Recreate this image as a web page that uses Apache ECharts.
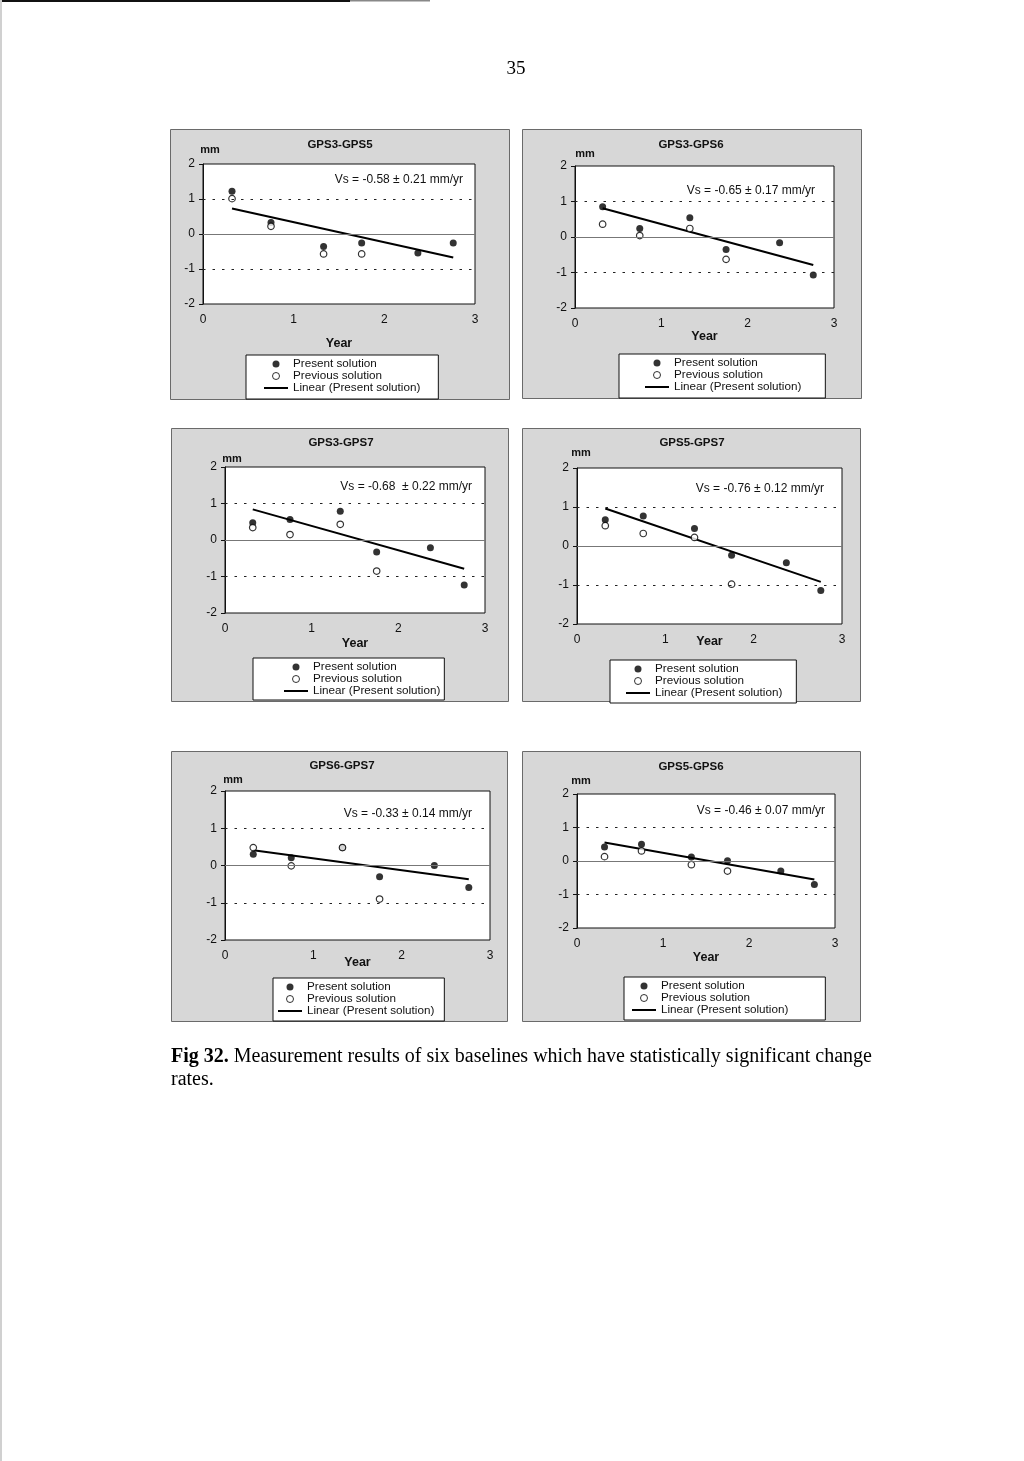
<!DOCTYPE html>
<html><head><meta charset="utf-8">
<script src="https://cdn.jsdelivr.net/npm/echarts@6/dist/echarts.min.js"></script>
<style>html,body{margin:0;padding:0;background:#fff}#c{width:1024px;height:1461px}</style>
</head><body><div id="c"></div>
<script>
// ---------- data ----------
const yearsPresent = [0.32, 0.75, 1.33, 1.75, 2.37, 2.76];
const yearsPrevious = [0.32, 0.75, 1.33, 1.75];
const yearsTrend = [0.32, 2.76];
const xTicks = [0, 1, 2, 3];
const yTicks = [-2, -1, 0, 1, 2];
const baselines = ['GPS3-GPS5', 'GPS3-GPS6', 'GPS3-GPS7', 'GPS5-GPS7', 'GPS6-GPS7', 'GPS5-GPS6'];
const rateTexts = [
  'Vs = -0.58 ± 0.21 mm/yr',
  'Vs = -0.65 ± 0.17 mm/yr',
  'Vs = -0.68  ± 0.22 mm/yr',
  'Vs = -0.76 ± 0.12 mm/yr',
  'Vs = -0.33 ± 0.14 mm/yr',
  'Vs = -0.46 ± 0.07 mm/yr'
];
const presentGPS3GPS5 = [1.22, 0.33, -0.36, -0.26, -0.54, -0.26];
const previousGPS3GPS5 = [1.01, 0.22, -0.57, -0.57];
const trendGPS3GPS5 = [0.73, -0.67];
const presentGPS3GPS6 = [0.85, 0.24, 0.54, -0.35, -0.16, -1.07];
const previousGPS3GPS6 = [0.36, 0.04, 0.24, -0.63];
const trendGPS3GPS6 = [0.81, -0.79];
const presentGPS3GPS7 = [0.47, 0.56, 0.79, -0.33, -0.21, -1.23];
const previousGPS3GPS7 = [0.34, 0.15, 0.43, -0.85];
const trendGPS3GPS7 = [0.84, -0.79];
const presentGPS5GPS7 = [0.67, 0.77, 0.45, -0.24, -0.43, -1.14];
const previousGPS5GPS7 = [0.52, 0.32, 0.22, -0.98];
const trendGPS5GPS7 = [0.96, -0.92];
const presentGPS6GPS7 = [0.30, 0.21, 0.48, -0.30, 0.00, -0.59];
const previousGPS6GPS7 = [0.48, -0.01, 0.48, -0.90];
const trendGPS6GPS7 = [0.41, -0.37];
const presentGPS5GPS6 = [0.42, 0.50, 0.12, 0.01, -0.30, -0.70];
const previousGPS5GPS6 = [0.13, 0.30, -0.11, -0.30];
const trendGPS5GPS6 = [0.55, -0.55];
const seriesNames = ['Present solution', 'Previous solution', 'Linear (Present solution)'];
const pageNumber = '35';
const captionBold = 'Fig 32.';
const captionLine1 = ' Measurement results of six baselines which have statistically significant change';
const captionLine2 = 'rates.';

const presentAll = [presentGPS3GPS5, presentGPS3GPS6, presentGPS3GPS7, presentGPS5GPS7, presentGPS6GPS7, presentGPS5GPS6];
const previousAll = [previousGPS3GPS5, previousGPS3GPS6, previousGPS3GPS7, previousGPS5GPS7, previousGPS6GPS7, previousGPS5GPS6];
const trendAll = [trendGPS3GPS5, trendGPS3GPS6, trendGPS3GPS7, trendGPS5GPS7, trendGPS6GPS7, trendGPS5GPS6];

// ---------- layout (positions only) ----------
const L = [
  {box:[170,129,339,270], grid:[203,164,272,140], leg:[246,355,[3,18,5,18]], mm:[7,8.5], yearGap:33, vs:[463,180], title:[340,145]},
  {box:[522,129,339,269], grid:[575,166,259,142], leg:[619,354,[3,24,5,26]], mm:[10,7], yearGap:22, vs:[815,191], title:[691,145]},
  {box:[171,428,337,273], grid:[225,467,260,146], leg:[253,658,[3,4,3,31]], mm:[7,3], yearGap:24, vs:[472,487], title:[341,443]},
  {box:[522,428,338,273], grid:[577,468,265,156], leg:[610,660,[3,14,4,16]], mm:[4,10], yearGap:11, vs:[824,489], title:[692,443]},
  {box:[171,751,336,270], grid:[225,791,265,149], leg:[273,978,[3,10,4,5]], mm:[8,6], yearGap:16, vs:[472,814], title:[342,766]},
  {box:[522,751,338,270], grid:[577,794,258,134], leg:[624,977,[3,37,4,8]], mm:[4,7.5], yearGap:23, vs:[825,811], title:[691,767]}
];

const SANS = '"Liberation Sans", Arial, sans-serif';
const SERIF = '"Liberation Serif", "Times New Roman", serif';
const LINE_ICON = 'path://M0 -2.5 M24 4.5 M0 0 L24 0 L24 2 L0 2 Z';

const grids = [], xAxes = [], yAxes = [], series = [], legends = [], graphics = [];

// page decorations
graphics.push({type:'rect', shape:{x:0, y:0, width:350, height:2}, style:{fill:'#111'}, z:-50});
graphics.push({type:'rect', shape:{x:350, y:0, width:80, height:1.5}, style:{fill:'#888'}, z:-50});
graphics.push({type:'rect', shape:{x:0, y:0, width:2, height:1461}, style:{fill:'#d0d0d0'}, z:-50});
graphics.push({type:'text', x:516, y:69, style:{text:pageNumber, font:'19px ' + SERIF, fill:'#000', align:'center', verticalAlign:'middle'}, z:100});
graphics.push({type:'text', x:171, y:1057, style:{
  text:'{b|' + captionBold + '}' + captionLine1,
  font:'20px ' + SERIF, fill:'#000', verticalAlign:'middle',
  rich:{b:{fontWeight:'bold', fontSize:20, fontFamily:SERIF}}
}, z:100});
graphics.push({type:'text', x:171, y:1080, style:{text:captionLine2, font:'20px ' + SERIF, fill:'#000', verticalAlign:'middle'}, z:100});

baselines.forEach((name, i) => {
  const l = L[i];
  graphics.push({type:'rect', shape:{x:l.box[0]+0.5, y:l.box[1]+0.5, width:l.box[2], height:l.box[3]},
    style:{fill:'#d7d7d7', stroke:'#6a6a6a', lineWidth:1}, z:-40});
  graphics.push({type:'text', x:l.title[0], y:l.title[1], style:{text:name, font:'bold 11.5px ' + SANS, fill:'#111', align:'center', verticalAlign:'middle'}, z:100});
  graphics.push({type:'text', x:l.vs[0], y:l.vs[1], style:{text:rateTexts[i], font:'12px ' + SANS, fill:'#111', align:'right', verticalAlign:'middle'}, z:100});

  grids.push({left:l.grid[0], top:l.grid[1], width:l.grid[2], height:l.grid[3], show:true,
    backgroundColor:'#fff', borderColor:'#111', borderWidth:1, containLabel:false, outerBoundsMode:'none'});
  xAxes.push({type:'value', gridIndex:i, min:xTicks[0], max:xTicks[xTicks.length-1], interval:1,
    position:'bottom', name:'Year', nameLocation:'middle', nameGap:l.yearGap, nameMoveOverlap:false,
    nameTextStyle:{fontFamily:SANS, fontWeight:'bold', fontSize:12.5, color:'#111'},
    axisLine:{show:false, onZero:false}, axisTick:{show:false}, splitLine:{show:false},
    axisLabel:{fontFamily:SANS, fontSize:12, color:'#111', margin:10, showMinLabel:true, showMaxLabel:true}});
  yAxes.push({type:'value', gridIndex:i, min:yTicks[0], max:yTicks[yTicks.length-1], interval:1,
    name:'mm', nameLocation:'end', nameGap:l.mm[1],
    nameTextStyle:{fontFamily:SANS, fontWeight:'bold', fontSize:11, color:'#111', padding:[0,0,0,2*l.mm[0]]},
    axisLine:{show:true, lineStyle:{color:'#111', width:1}}, axisTick:{show:true, length:4, lineStyle:{color:'#111'}},
    splitLine:{show:false},
    axisLabel:{fontFamily:SANS, fontSize:12, color:'#111', margin:8, showMinLabel:true, showMaxLabel:true}});

  series.push({type:'scatter', name:seriesNames[0], xAxisIndex:i, yAxisIndex:i,
    data: presentAll[i].map((v, k) => [yearsPresent[k], v]),
    symbol:'circle', symbolSize:7, itemStyle:{color:'#000'}, emphasis:{disabled:true}, z:3});
  series.push({type:'scatter', name:seriesNames[1], xAxisIndex:i, yAxisIndex:i,
    data: previousAll[i].map((v, k) => [yearsPrevious[k], v]),
    symbol:'circle', symbolSize:6.5, itemStyle:{color:'#fff', borderColor:'#000', borderWidth:1.2}, emphasis:{disabled:true}, z:4});
  series.push({type:'line', name:seriesNames[2], xAxisIndex:i, yAxisIndex:i,
    data: trendAll[i].map((v, k) => [yearsTrend[k], v]),
    symbol:'none', itemStyle:{color:'#000'}, lineStyle:{color:'#000', width:2}, emphasis:{disabled:true}, z:2,
    markLine:{silent:true, symbol:['none','none'], label:{show:false}, animation:false,
      lineStyle:{color:'#222', type:[2.5,7], width:1},
      data:[{yAxis:yTicks[3]}, {yAxis:yTicks[1]}, {yAxis:yTicks[2], lineStyle:{color:'#777', type:'solid', width:1}}]}});

  legends.push({orient:'vertical', left:l.leg[0], top:l.leg[1], padding:l.leg[2],
    backgroundColor:'#fff', borderColor:'#111', borderWidth:1, borderRadius:0,
    itemWidth:24, itemHeight:7, itemGap:0, selectedMode:false,
    textStyle:{fontFamily:SANS, fontSize:11.7, color:'#111', lineHeight:11},
    data:[
      {name:seriesNames[0], icon:'circle', itemStyle:{color:'#000', borderWidth:0}},
      {name:seriesNames[1], icon:'circle', itemStyle:{color:'#fff', borderColor:'#000', borderWidth:1}},
      {name:seriesNames[2], icon:LINE_ICON, itemStyle:{color:'#000', borderWidth:0}}
    ]});
});

const chart = echarts.init(document.getElementById('c'), null, {renderer:'canvas'});
chart.setOption({
  backgroundColor:'#fff',
  animation:false,
  grid:grids, xAxis:xAxes, yAxis:yAxes, series:series, legend:legends,
  graphic:{elements:graphics}
});
</script>
</body></html>
